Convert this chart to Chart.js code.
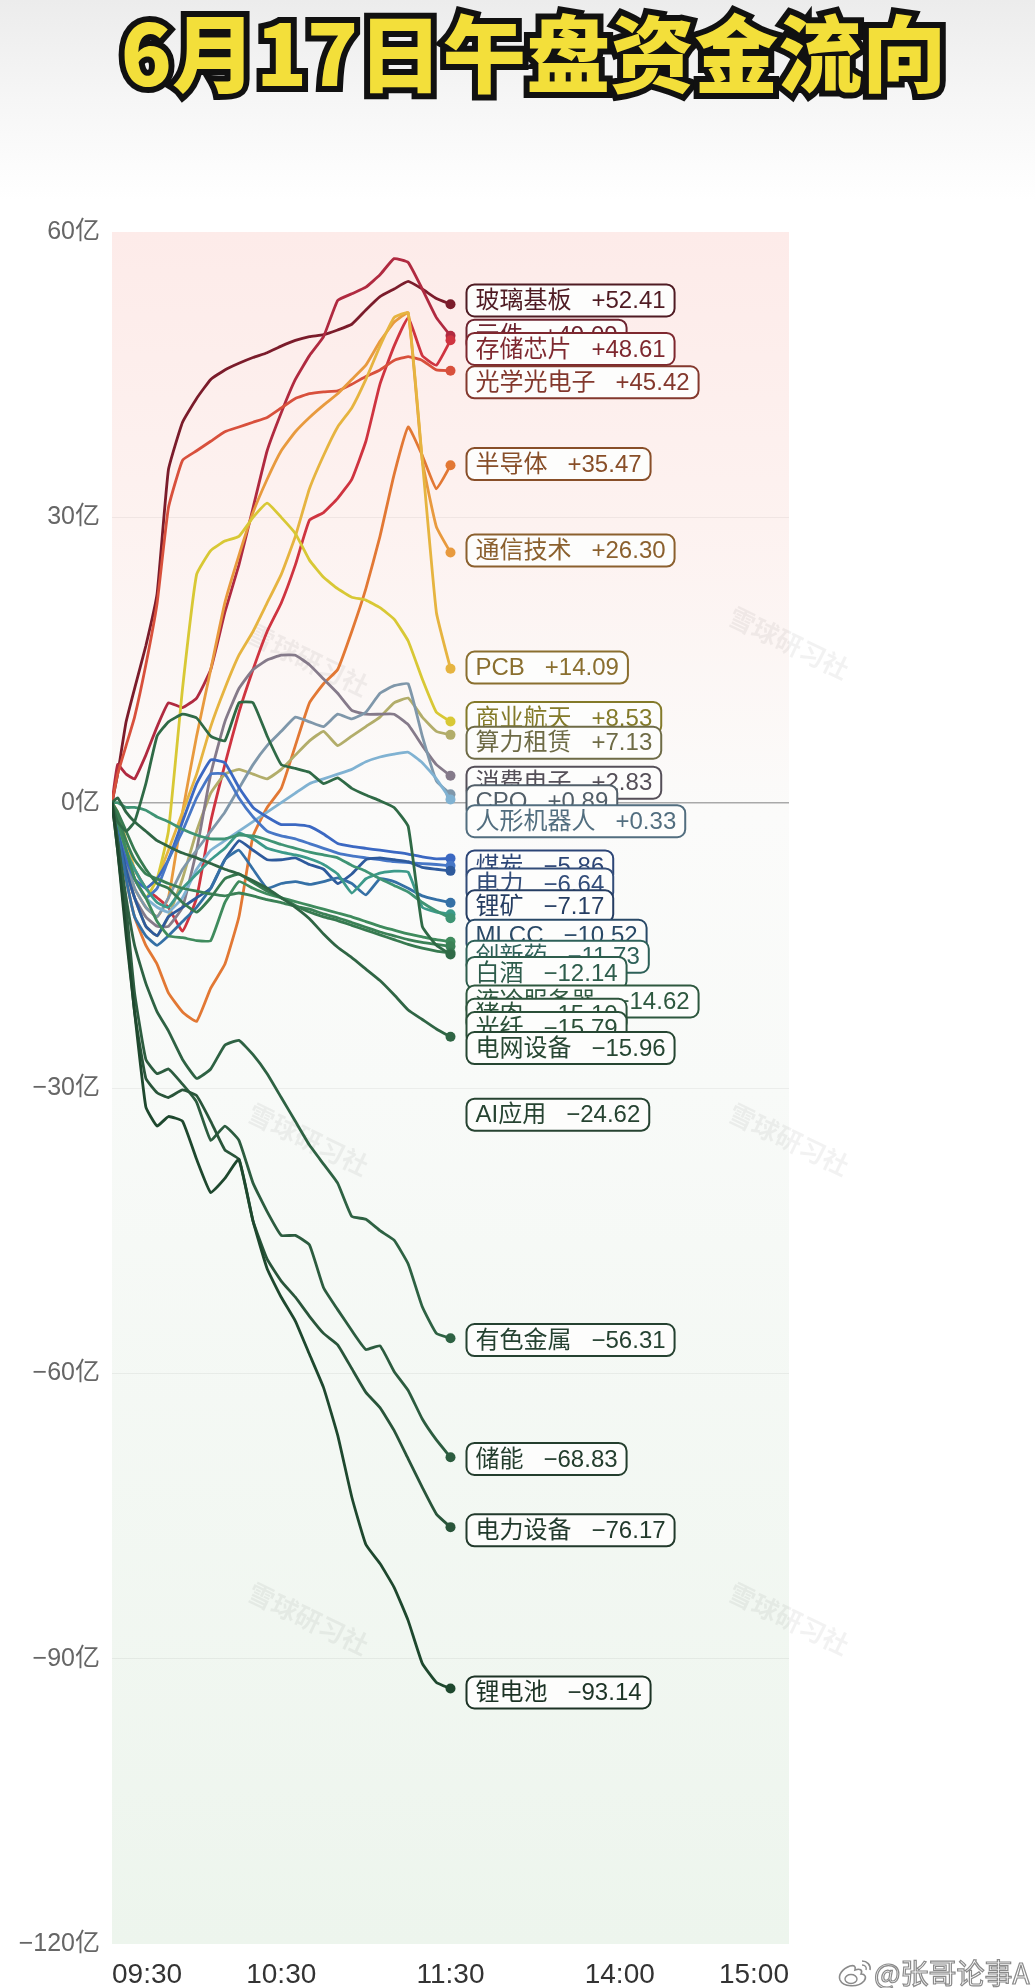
<!DOCTYPE html>
<html>
<head>
<meta charset="utf-8">
<title>6月17日午盘资金流向</title>
<script src="https://cdn.jsdelivr.net/npm/chart.js@4"></script>
<style>
html,body{margin:0;padding:0}
body{width:1035px;height:1988px;position:relative;overflow:hidden;background:linear-gradient(#ececec 0px,#f6f6f6 100px,#ffffff 200px);font-family:"Noto Sans CJK SC",sans-serif}
#c{position:absolute;left:0;top:0}
#title{position:absolute;left:16px;top:6px;width:1035px;text-align:center;font-size:84px;line-height:88px;font-weight:900;color:#f3df3a;-webkit-text-stroke:12px #111;paint-order:stroke fill;letter-spacing:0}
#mark{position:absolute;left:874px;top:1954px;font-size:28px;line-height:36px;color:#fff;-webkit-text-stroke:1.2px #8a8a8a;font-family:"Noto Sans CJK SC",sans-serif}
#logo{position:absolute;left:836px;top:1957px}
</style>
</head>
<body>
<div id="title">6月17日午盘资金流向</div>
<canvas id="c" width="1035" height="1988"></canvas>
<svg id="logo" width="38" height="32" viewBox="0 0 38 32">
  <path d="M14 9 C6 12 2 18 4 23 C7 30 22 31 28 24 C31 20 29 17 25 17 C27 13 24 11 19 13 C20 9 18 8 14 9 Z" fill="#fff" stroke="#8a8a8a" stroke-width="1.6"/>
  <ellipse cx="15" cy="22" rx="6" ry="4.5" fill="none" stroke="#8a8a8a" stroke-width="1.4"/>
  <path d="M26 4 C31 4 35 8 34 13" fill="none" stroke="#8a8a8a" stroke-width="1.6"/>
  <path d="M26 8 C29 8 31 10 30 13" fill="none" stroke="#8a8a8a" stroke-width="1.4"/>
</svg>
<div id="mark">@张哥论事A</div>
<script>
// minutes after 09:30 (morning session only)
const minutes = [0,2,5,8,12,16,20,25,30,35,40,45,50,55,60,65,70,75,80,85,90,95,100,105,110,115,120];
const timeTicks = [0,60,120,180,240];
const timeLabels = ['09:30','10:30','11:30','14:00','15:00'];
const yTicks = [60,30,0,-30,-60,-90,-120];

const names = ['玻璃基板','元件','存储芯片','光学光电子','半导体','通信技术','PCB','商业航天','算力租赁','消费电子','CPO','人形机器人',
  '煤炭','电力','锂矿','MLCC','创新药','白酒','液冷服务器','猪肉','光纤','电网设备','AI应用','有色金属','储能','电力设备','锂电池'];

// net inflow, 亿
const boli      = [0,3,8.5,12,16.5,22,35,40,42.5,44.5,45.5,46.2,46.8,47.3,48,48.6,49,49.2,49.7,50.3,51.8,53.2,54,54.8,54,53,52.41];
const yuanjian  = [0,4,3,2.5,5,8,10.5,10,11,14,20,25,31,37,41,44.5,47,49,52.8,53.5,54.2,55.5,57.2,56.8,54,51,49.09];
const cunchu    = [0,-2,-5,-7,-9,-10,-11,-13.5,-10,-2,4,9.5,14,18,21,25,29.7,30.5,32,34,38,44,48,51,47,46,48.61];
const guangxue  = [0,3,6,9,14.5,21,31,36,37,38,39,39.5,40,40.5,41.5,42.5,43,43.2,43.3,44,44.8,45.5,46.5,46.9,46.5,45.5,45.42];
const bandaoti  = [0,-3,-8,-12,-15,-17,-20,-22,-23,-19.5,-17,-12,-3.5,-0.5,1.5,6,10.5,12.5,14,18,22.5,28,34.5,39.5,36.5,33,35.47];
const tongxin   = [0,-2,-6,-9,-11,-12,-10,-1,7,14,21,26,30.5,34,37,39,40.5,41.8,43,44.5,46,48.5,50.5,51.5,36,29,26.3];
const pcb       = [0,-1,-4,-7,-9,-8,-5,-1,3,8,12,15.5,18,21,24,28,33,36.5,39.5,41.5,44.5,48,51,51.5,36,20,14.09];
const hangtian  = [0,-2,-5,-8,-10,-8,-3,12,24,26.5,27.5,28,30,31.5,30,28.3,25.5,23.7,22.5,21.6,21.3,20.5,19.3,17,13,9.5,8.53];
const suanli    = [0,-3,-7,-10,-13,-14,-12,-8,-3,1,3,3.5,3,2.5,3.5,5,6.5,7.5,6,7,8,9,10.5,11,9,7.5,7.13];
const xiaofei   = [0,-3,-7,-10,-12,-13,-13,-11,-5,3,8.5,12,14,15,15.5,15.5,14.5,13,11.5,9.7,9.3,9.3,9.3,8.2,6,4,2.83];
const cpo       = [0,-3,-6,-9,-11,-12,-10,-7,-5,-3,-1,1.5,4,6,7.5,9,8.5,8,9.3,8.8,9.5,11.5,12.3,12.5,7,2.3,0.89];
const renxing   = [0,-2,-5,-8,-10,-11,-11.5,-10,-7,-5,-4,-3,-2,-1,0,1,2,2.5,3,3.5,4.3,4.8,5.1,5.3,4.2,2.5,0.33];
const meitan    = [0,-3,-6,-8,-9,-8,-6,-2,2,4.5,4.2,1.6,-0.5,-1.5,-2.3,-2.3,-2.5,-3.3,-4.3,-4.6,-4.8,-5,-5.2,-5.4,-5.7,-5.9,-5.86];
const dianli    = [0,-2,-5,-8,-10,-9,-6,-3,0.5,3,3,0.5,-1.5,-3,-3.5,-3.8,-4.3,-4.8,-5.3,-5.6,-5.8,-6,-6.2,-6.3,-6.4,-6.5,-6.64];
const likuang   = [0,-3,-7,-10,-13,-14,-12,-11,-10,-9,-6,-4,-5,-6,-6,-5.8,-6.5,-7,-8.5,-7.5,-6,-5.8,-6,-6.2,-6.8,-7,-7.17];
const mlcc      = [0,-3,-8,-12,-14,-15,-14,-12.5,-11,-9,-6,-5,-7,-9,-8.5,-8.3,-8.6,-8.3,-7.9,-8.5,-9.7,-8,-8.3,-9,-9.8,-10.2,-10.52];
const chuangxin = [0,-2,-5,-7,-9,-10.5,-11,-9,-7.5,-6,-4.8,-3.2,-3.8,-4.8,-5.2,-5.5,-5.9,-6.5,-7.5,-9.5,-8,-7.4,-7.2,-7.3,-11,-11.5,-11.73];
const baijiu    = [0,0,-0.5,-0.5,-0.8,-1.5,-2,-2.8,-3.4,-3.8,-3.8,-3.4,-3.5,-3.9,-4.4,-4.8,-5.2,-5.5,-5.8,-6.6,-7.2,-8,-8.7,-9.4,-10.5,-11.4,-12.14];
const lengque   = [0,-2,-5,-8,-10,-12.5,-14,-14.2,-14.5,-14.5,-10.5,-8.3,-9,-9.6,-10,-10.4,-10.8,-11.2,-11.6,-12,-12.5,-13,-13.4,-13.8,-14.1,-14.4,-14.62];
const zhurou    = [0,-1.5,-4,-6,-7.5,-8,-8.5,-9,-9.3,-9.6,-9.8,-9.5,-9.8,-10.2,-10.5,-10.9,-11.2,-11.7,-12.1,-12.6,-13.1,-13.6,-14,-14.4,-14.7,-14.9,-15.1];
const guangxian = [0,-1,-3,-5,-7,-8.5,-9,-10.5,-11.5,-10,-8,-7.5,-8.4,-9.3,-10,-10.8,-11.5,-12,-12.4,-12.9,-13.4,-13.9,-14.4,-14.9,-15.3,-15.6,-15.79];
const dianwang  = [0,-2,-3,-2,2,7,8.5,9.3,8.9,7,6.5,10.5,10.5,7,4,3.6,3.2,2,2.6,1.5,0.8,0.2,-0.5,-2.5,-13,-15,-15.96];
const aiyy      = [0,0.5,-1,-2,-3,-4,-4.6,-5.3,-5.8,-6.4,-7,-7.5,-8.2,-9,-10,-11,-12.2,-13.8,-15.2,-16.3,-17.5,-18.7,-20.2,-21.8,-22.8,-23.8,-24.62];
const youse     = [0,-4,-10,-15,-19,-22,-24,-27,-29,-28,-25.5,-25,-26.5,-28.5,-31,-33.5,-36,-38,-40,-43.5,-43.8,-45,-46,-48.5,-53,-55.8,-56.31];
const chuneng   = [0,-4,-11,-20,-27,-28.5,-28,-29.6,-31.5,-35.5,-34,-35.5,-40,-43,-45.5,-45.5,-46.5,-51,-53.3,-55.5,-57.5,-57.1,-59.8,-61.8,-64.8,-67,-68.83];
const dlsb      = [0,-5,-13,-22,-29,-30.5,-31,-30.2,-30.8,-33.5,-36.5,-37.5,-44,-48,-50.3,-52,-54,-55.8,-57,-59.5,-62,-63.6,-66,-69,-72,-74.8,-76.17];
const lidian    = [0,-5,-14,-22,-32,-34,-33,-33.5,-37.5,-41,-39.5,-37.5,-44,-49,-52,-54.5,-58,-61.5,-66.5,-73,-78,-80,-82.5,-86,-90.5,-92.5,-93.14];

const seriesData = [boli,yuanjian,cunchu,guangxue,bandaoti,tongxin,pcb,hangtian,suanli,xiaofei,cpo,renxing,
  meitan,dianli,likuang,mlcc,chuangxin,baijiu,lengque,zhurou,guangxian,dianwang,aiyy,youse,chuneng,dlsb,lidian];

// where each end tag sits (亿), tags were pushed apart in the original
const labelAt = [52.8,49.1,47.7,44.2,35.6,26.5,14.2,8.9,6.3,2.1,0.16,-1.95,
  -6.7,-8.6,-10.9,-14.0,-16.2,-17.9,-20.9,-22.3,-23.7,-25.8,-32.8,-56.5,-69.0,-76.5,-93.55];

const colors = ['#7b1c2b','#b02a40','#cf3440','#d8503c','#e27834','#e89a3e','#e6b440','#d8c835','#b2ad6a','#857a8a','#7f97aa','#80b2d2',
  '#3b68c2','#4777c6','#2e5a9c','#3570a6','#3c9a8a','#3f9474','#3f8b5d','#3b8156','#377a50','#2f6a46','#2f6544','#2e6243','#2c5c3f','#29553a','#1e482e'];

const FONT = '"Liberation Sans", "Noto Sans CJK SC", sans-serif';

function darken(hex, k) {
  const n = parseInt(hex.slice(1), 16);
  const r = Math.round(((n >> 16) & 255) * (1 - k) + 26 * k);
  const g = Math.round(((n >> 8) & 255) * (1 - k) + 26 * k);
  const b = Math.round((n & 255) * (1 - k) + 26 * k);
  return 'rgb(' + r + ',' + g + ',' + b + ')';
}

function roundBox(ctx, x, y, w, h, r) {
  ctx.beginPath();
  ctx.moveTo(x + r, y);
  ctx.lineTo(x + w - r, y);
  ctx.arcTo(x + w, y, x + w, y + r, r);
  ctx.lineTo(x + w, y + h - r);
  ctx.arcTo(x + w, y + h, x + w - r, y + h, r);
  ctx.lineTo(x + r, y + h);
  ctx.arcTo(x, y + h, x, y + h - r, r);
  ctx.lineTo(x, y + r);
  ctx.arcTo(x, y, x + r, y, r);
  ctx.closePath();
}

const bgPlugin = {
  id: 'bg',
  beforeDraw(chart) {
    const {ctx, chartArea: a} = chart;
    const g = ctx.createLinearGradient(0, a.top, 0, a.bottom);
    g.addColorStop(0, '#fdebe9');
    g.addColorStop(0.17, '#fdf2f0');
    g.addColorStop(0.34, '#fbfbfa');
    g.addColorStop(0.5, '#f8faf8');
    g.addColorStop(1, '#edf5ed');
    ctx.save();
    ctx.fillStyle = g;
    ctx.fillRect(a.left, a.top, a.right - a.left, a.bottom - a.top);
    // faint watermarks
    ctx.fillStyle = 'rgba(0,0,0,0.05)';
    ctx.font = 'bold 26px "Noto Sans CJK SC", sans-serif';
    ctx.textAlign = 'center';
    ctx.textBaseline = 'middle';
    const w = a.right - a.left, h = a.bottom - a.top;
    [[0.29, 0.25], [0.29, 0.53], [0.29, 0.81], [1.0, 0.24], [1.0, 0.53], [1.0, 0.81]].forEach(p => {
      ctx.save();
      ctx.translate(a.left + p[0] * w, a.top + p[1] * h);
      ctx.rotate(0.45);
      ctx.fillText('雪球研习社', 0, 0);
      ctx.restore();
    });
    ctx.restore();
  }
};

const tagPlugin = {
  id: 'tags',
  afterDatasetsDraw(chart) {
    const {ctx, scales: {x, y}} = chart;
    const x0 = x.getPixelForValue(minutes[minutes.length - 1]) + 16;
    ctx.save();
    ctx.font = '24px ' + FONT;
    ctx.textBaseline = 'middle';
    names.forEach((name, i) => {
      const arr = seriesData[i];
      const v = arr[arr.length - 1];
      const num = (v >= 0 ? '+' : '−') + Math.abs(v).toFixed(2);
      const yc = y.getPixelForValue(labelAt[i]);
      const wName = ctx.measureText(name).width;
      const wNum = ctx.measureText(num).width;
      const w = 9 + wName + 20 + wNum + 9, h = 32;
      const dark = darken(colors[i], 0.45);
      roundBox(ctx, x0, yc - h / 2, w, h, 8);
      ctx.fillStyle = '#fdfdfc';
      ctx.fill();
      ctx.lineWidth = 2;
      ctx.strokeStyle = dark;
      ctx.stroke();
      ctx.fillStyle = dark;
      ctx.fillText(name, x0 + 9, yc + 1);
      ctx.fillText(num, x0 + 9 + wName + 20, yc + 1);
    });
    ctx.restore();
  }
};

new Chart(document.getElementById('c'), {
  type: 'line',
  data: {
    datasets: names.map((n, i) => ({
      label: n,
      data: minutes.map((m, j) => ({x: m, y: seriesData[i][j]})),
      borderColor: colors[i],
      backgroundColor: colors[i],
      borderWidth: 2.8,
      tension: 0.12,
      fill: false,
      pointRadius: ctx => ctx.dataIndex === minutes.length - 1 ? 5 : 0,
      pointHoverRadius: 0,
      pointBorderWidth: 0,
      order: names.length - i
    }))
  },
  options: {
    responsive: false,
    animation: false,
    devicePixelRatio: 1,
    layout: {padding: {top: 232, right: 246, bottom: 0, left: 0}},
    plugins: {legend: {display: false}, tooltip: {enabled: false}},
    scales: {
      x: {
        type: 'linear', min: 0, max: 240,
        afterBuildTicks: a => { a.ticks = timeTicks.map(v => ({value: v})); },
        afterFit: a => { a.height = 44; },
        grid: {display: false},
        border: {display: false},
        ticks: {
          align: 'inner', padding: 6, color: '#333', maxRotation: 0, autoSkip: false,
          font: {size: 28, family: FONT},
          callback: v => timeLabels[timeTicks.indexOf(v)]
        }
      },
      y: {
        min: -120, max: 60,
        afterBuildTicks: a => { a.ticks = yTicks.map(v => ({value: v})); },
        afterFit: a => { a.width = 112; },
        grid: {
          drawTicks: false,
          color: c => c.tick.value === 0 ? '#a9a9a9' : (c.tick.value === 60 || c.tick.value === -120 ? 'rgba(0,0,0,0)' : 'rgba(0,0,0,0.05)'),
          lineWidth: c => c.tick.value === 0 ? 1.5 : 1
        },
        border: {display: false},
        ticks: {
          padding: 12, color: '#666', font: {size: 25, family: FONT},
          callback: v => (v < 0 ? '−' + (-v) : v) + '亿'
        }
      }
    }
  },
  plugins: [bgPlugin, tagPlugin]
});
</script>
</body>
</html>
